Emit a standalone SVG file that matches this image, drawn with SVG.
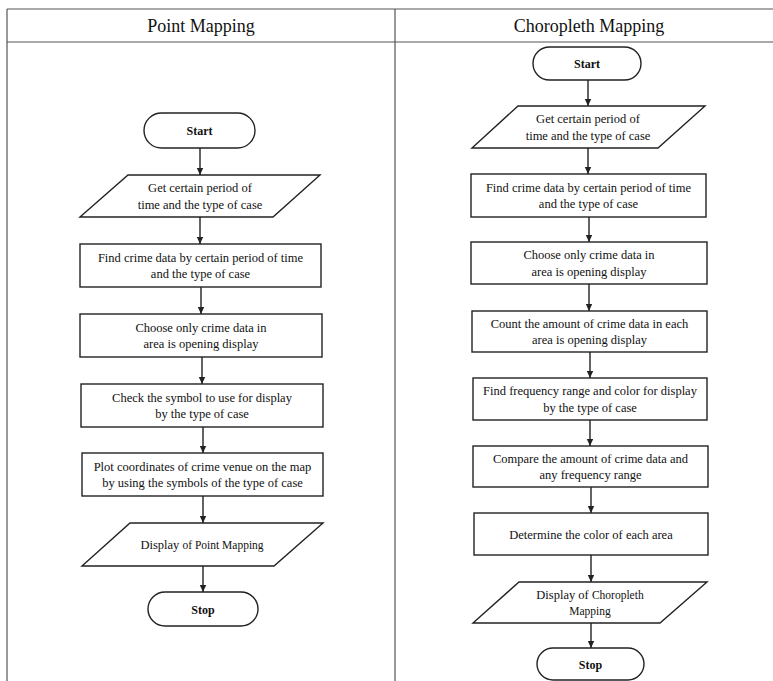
<svg xmlns="http://www.w3.org/2000/svg" width="773" height="681" viewBox="0 0 773 681">
<defs>
<style>
.tbl{stroke:#555;stroke-width:1.2;fill:none}
.shp{fill:#fff;stroke:#222;stroke-width:1.4}
.con{stroke:#222;stroke-width:1.4;fill:none}
text{font-family:"Liberation Serif","Times New Roman",serif;fill:#111;text-anchor:middle}
.t{font-size:12.5px}
.b{font-size:12px;font-weight:bold}
.h{font-size:18px}
.s{font-size:11.5px}
</style>
<marker id="ah" markerWidth="8" markerHeight="8" refX="7" refY="4" orient="auto" markerUnits="userSpaceOnUse">
<path d="M0,0.8 L7,4 L0,7.2 Z" fill="#222"/>
</marker>
</defs>
<rect width="773" height="681" fill="#fff"/>
<g id="table">
<line class="tbl" x1="7" y1="9" x2="773" y2="9"/>
<line class="tbl" x1="7" y1="42" x2="773" y2="42"/>
<line class="tbl" x1="7" y1="9" x2="7" y2="681"/>
<line class="tbl" x1="395" y1="9" x2="395" y2="681"/>
<text class="h" x="201" y="32">Point Mapping</text>
<text class="h" x="589" y="32">Choropleth Mapping</text>
</g>
<g id="connectors">
<line class="con" x1="200" y1="148" x2="200" y2="175" marker-end="url(#ah)"/>
<line class="con" x1="200" y1="217" x2="200" y2="244" marker-end="url(#ah)"/>
<line class="con" x1="201" y1="287" x2="201" y2="314" marker-end="url(#ah)"/>
<line class="con" x1="202" y1="357" x2="202" y2="384" marker-end="url(#ah)"/>
<line class="con" x1="203" y1="427" x2="203" y2="453" marker-end="url(#ah)"/>
<line class="con" x1="203" y1="496" x2="203" y2="523" marker-end="url(#ah)"/>
<line class="con" x1="203" y1="566" x2="203" y2="592" marker-end="url(#ah)"/>
<line class="con" x1="588" y1="80" x2="588" y2="106" marker-end="url(#ah)"/>
<line class="con" x1="588" y1="148" x2="588" y2="174" marker-end="url(#ah)"/>
<line class="con" x1="589" y1="217" x2="589" y2="242" marker-end="url(#ah)"/>
<line class="con" x1="589" y1="284" x2="589" y2="311" marker-end="url(#ah)"/>
<line class="con" x1="590" y1="352" x2="590" y2="378" marker-end="url(#ah)"/>
<line class="con" x1="590" y1="420" x2="590" y2="446" marker-end="url(#ah)"/>
<line class="con" x1="591" y1="487" x2="591" y2="513" marker-end="url(#ah)"/>
<line class="con" x1="591" y1="555" x2="591" y2="582" marker-end="url(#ah)"/>
<line class="con" x1="591" y1="623" x2="591" y2="648" marker-end="url(#ah)"/>
</g>
<g id="p-start">
<rect class="shp" x="144" y="113" width="111" height="35" rx="17.5"/>
<text class="b" x="199.5" y="135">Start</text>
</g>
<g id="p-input">
<polygon class="shp" points="128,175 320,175 273,217 80,217"/>
<text class="t" x="200" y="192">Get certain period of</text>
<text class="t" x="200" y="208.5">time and the type of case</text>
</g>
<g id="p-find">
<rect class="shp" x="80" y="244" width="241" height="43"/>
<text class="t" x="200.5" y="261.5">Find crime data by certain period of time</text>
<text class="t" x="200.5" y="278">and the type of case</text>
</g>
<g id="p-choose">
<rect class="shp" x="80" y="314" width="242" height="43"/>
<text class="t" x="201" y="331.5">Choose only crime data in</text>
<text class="t" x="201" y="348">area is opening display</text>
</g>
<g id="p-check">
<rect class="shp" x="81" y="384" width="242" height="43"/>
<text class="t" x="202" y="401.5">Check the symbol to use for display</text>
<text class="t" x="202" y="418">by the type of case</text>
</g>
<g id="p-plot">
<rect class="shp" x="82" y="453" width="241" height="43"/>
<text class="t" x="202.5" y="470.5">Plot coordinates of crime venue on the map</text>
<text class="t" x="202.5" y="487">by using the symbols of the type of case</text>
</g>
<g id="p-display">
<polygon class="shp" points="130,523 323,523 274,566 82,566"/>
<text class="t" x="202" y="549">Display <tspan class="s">of Point Mapping</tspan></text>
</g>
<g id="p-stop">
<rect class="shp" x="148" y="592" width="110" height="34" rx="17"/>
<text class="b" x="203" y="613.5">Stop</text>
</g>
<g id="c-start">
<rect class="shp" x="533" y="47" width="108" height="33" rx="16.5"/>
<text class="b" x="587" y="68">Start</text>
</g>
<g id="c-input">
<polygon class="shp" points="518,106 705,106 658,148 472,148"/>
<text class="t" x="588" y="123">Get certain period of</text>
<text class="t" x="588" y="139.5">time and the type of case</text>
</g>
<g id="c-find">
<rect class="shp" x="471" y="174" width="235" height="43"/>
<text class="t" x="588.5" y="191.5">Find crime data by certain period of time</text>
<text class="t" x="588.5" y="208">and the type of case</text>
</g>
<g id="c-choose">
<rect class="shp" x="471" y="242" width="236" height="42"/>
<text class="t" x="589" y="259">Choose only crime data in</text>
<text class="t" x="589" y="275.5">area is opening display</text>
</g>
<g id="c-count">
<rect class="shp" x="472" y="311" width="235" height="41"/>
<text class="t" x="589.5" y="327.5">Count the amount of crime data in each</text>
<text class="t" x="589.5" y="344">area is opening display</text>
</g>
<g id="c-freq">
<rect class="shp" x="473" y="378" width="234" height="42"/>
<text class="t" x="590" y="395">Find frequency range and color for display</text>
<text class="t" x="590" y="411.5">by the type of case</text>
</g>
<g id="c-compare">
<rect class="shp" x="473" y="446" width="235" height="41"/>
<text class="t" x="590.5" y="462.5">Compare the amount of crime data and</text>
<text class="t" x="590.5" y="479">any frequency range</text>
</g>
<g id="c-determine">
<rect class="shp" x="474" y="513" width="234" height="42"/>
<text class="t" x="591" y="538.5">Determine the color of each area</text>
</g>
<g id="c-display">
<polygon class="shp" points="519,582 707,582 660,623 473,623"/>
<text class="t" x="590" y="598.5">Display of <tspan class="s">Choropleth</tspan></text>
<text class="s" x="590" y="615">Mapping</text>
</g>
<g id="c-stop">
<rect class="shp" x="537" y="648" width="107" height="32" rx="16"/>
<text class="b" x="590.5" y="668.5">Stop</text>
</g>
</svg>
